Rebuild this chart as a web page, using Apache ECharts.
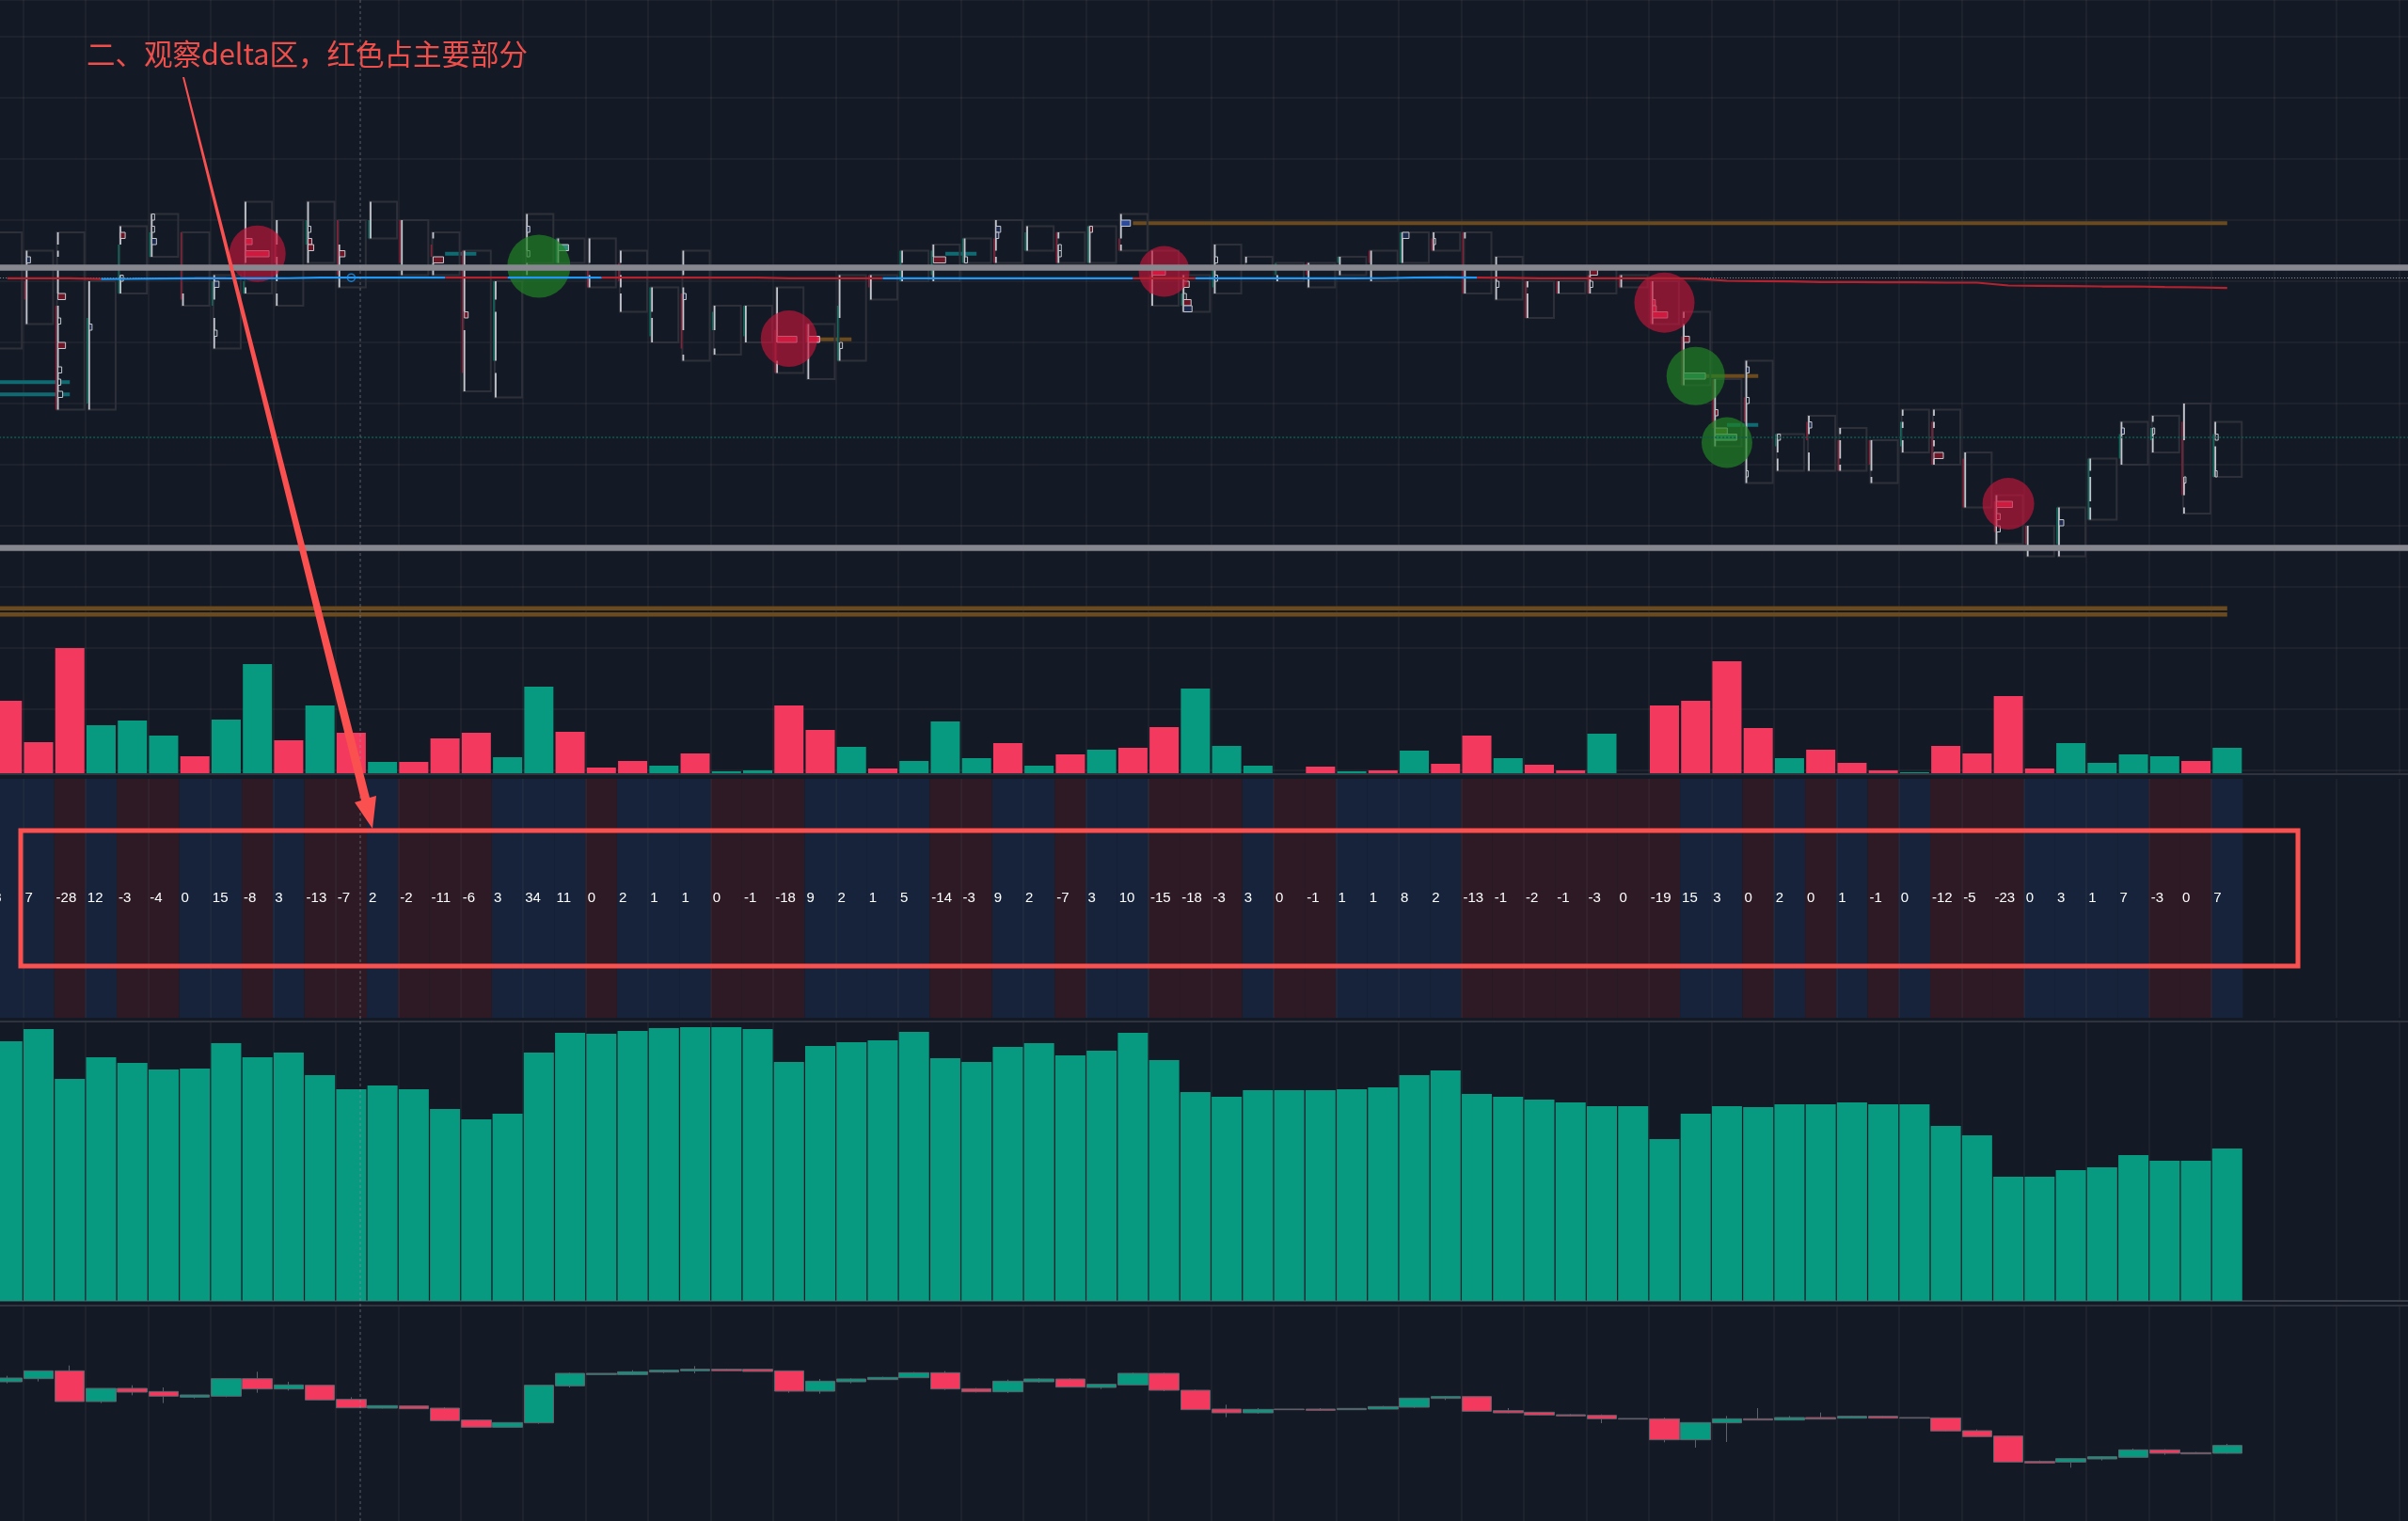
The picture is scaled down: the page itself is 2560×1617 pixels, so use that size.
<!DOCTYPE html>
<html>
<head>
<meta charset="utf-8">
<title>delta</title>
<script src="https://cdn.jsdelivr.net/npm/echarts@6/dist/echarts.min.js"></script>
<style>
html,body{margin:0;padding:0;background:#141a25;}
#main{width:2560px;height:1617px;}
</style>
</head>
<body>
<div id="main"></div>
<script>
// values, price in ticks, panes in their own units
var note = '二、观察delta区，红色占主要部分';

var deltas = [8,7,-28,12,-3,-4,0,15,-8,3,-13,-7,2,-2,-11,-6,3,34,11,0,2,1,1,0,-1,-18,9,2,1,5,-14,-3,9,2,-7,3,10,-15,-18,-3,3,0,-1,1,1,8,2,-13,-1,-2,-1,-3,0,-19,15,3,0,2,0,1,-1,0,-12,-5,-23,0,3,1,7,-3,0,7];
var deltaSide = ['b','b','r','b','r','r','b','b','r','b','r','r','b','r','r','r','b','b','b','r','b','b','b','r','r','r','b','b','b','b','r','r','b','b','r','b','b','r','r','r','b','r','r','b','b','b','b','r','r','r','r','r','r','r','b','b','r','b','r','b','r','b','r','r','r','b','b','b','b','r','r','b'];

var volume = [77,33,133,51,56,40,18,57,116,35,72,43,12,12,37,43,17,92,44,6,13,8,21,2,3,72,46,28,5,13,55,16,32,8,20,25,27,49,90,29,8,0,7,2,3,24,10,40,16,9,3,42,0,72,77,119,48,16,25,11,3,1,29,21,82,5,32,11,20,18,13,27];
var volumeSide = ['r','r','r','g','g','g','r','g','g','r','g','r','g','r','r','r','g','g','r','r','r','g','r','g','g','r','r','g','r','g','g','g','r','g','r','g','r','r','g','g','g','g','r','g','r','g','r','r','g','r','r','g','g','r','r','r','r','g','r','r','r','g','r','r','r','r','g','g','g','g','r','g'];

var totals = [276,289,236,259,253,246,247,274,259,264,240,225,229,225,204,193,199,264,285,284,287,290,291,291,289,254,271,275,277,286,258,254,270,274,261,266,285,256,222,217,224,224,224,225,227,240,245,220,217,214,211,207,207,172,199,207,206,209,209,211,209,209,186,176,132,132,139,142,155,149,149,162];

// open, close, low, high
var cumDelta = [[444,456,439,463],[454,479,445,479],[479,381,381,496],[381,423,376,423],[423,411,401,433],[413,398,376,426],[395,402,391,402],[398,454,395,454],[454,421,409,476],[421,434,416,444],[433,386,385,433],[388,361,361,395],[360,368,359,368],[367,358,357,367],[360,320,318,363],[322,299,299,324],[299,314,298,314],[313,433,310,433],[431,471,426,473],[467,471,467,471],[467,476,465,481],[475,481,472,483],[479,484,471,494],[484,479,478,486],[484,477,477,484],[479,414,409,479],[414,446,406,453],[444,453,439,455],[451,458,450,460],[457,473,456,475],[473,421,418,478],[422,412,410,424],[412,446,408,451],[444,453,441,456],[453,427,426,455],[426,436,421,437],[434,471,433,473],[471,417,414,473],[417,355,355,419],[357,345,331,371],[345,356,342,360],[357,355,355,357],[357,353,351,360],[355,359,355,360],[357,365,357,367],[363,392,361,392],[391,397,386,399],[397,350,349,398],[352,345,344,360],[347,338,336,348],[339,335,333,341],[337,326,312,340],[327,325,325,327],[326,259,251,330],[259,314,234,315],[313,326,252,335],[326,322,321,360],[322,330,321,335],[330,325,324,346],[328,334,327,336],[334,328,327,336],[330,328,328,330],[329,287,285,330],[288,269,268,292],[271,188,187,273],[190,185,184,193],[188,199,170,201],[198,205,193,207],[203,227,202,231],[227,216,211,229],[218,214,213,220],[216,241,215,246]];

var boxHigh = [88,85,88,80,89,91,88,81,93,90,93,90,93,90,88,85,80,91,87,87,85,79,85,76,76,79,73,81,81,85,86,87,90,89,88,89,91,85,81,86,84,83,83,84,85,88,88,88,84,80,80,82,81,80,75,64,67,55,58,56,54,59,59,52,45,40,43,51,57,58,60,57];
var boxLow = [69,73,59,59,78,84,76,69,78,76,83,79,87,81,81,62,61,83,83,79,75,70,67,68,70,65,64,67,77,80,80,83,83,85,83,83,85,76,75,78,82,80,79,81,80,83,85,78,77,74,78,78,79,73,63,53,47,49,49,49,47,52,50,43,37,35,35,41,50,52,42,48];

// bar, high, low, side of the thin candle at the left of each footprint
var bodies = [[1,80,77,'r'],[2,76,59,'r'],[3,74,60,'g'],[4,86,78,'g'],[5,88,84,'g'],[6,88,77,'r'],[7,80,76,'g'],[8,80,78,'g'],[9,88,83,'r'],[10,90,86,'g'],[11,90,81,'r'],[12,90,87,'g'],[13,90,83,'r'],[14,86,84,'r'],[15,85,65,'r'],[16,80,67,'g'],[18,87,83,'g'],[19,82,79,'r'],[20,83,80,'r'],[21,79,71,'g'],[22,78,69,'r'],[23,75,72,'g'],[24,76,71,'g'],[25,72,65,'r'],[26,73,70,'r'],[27,76,67,'g'],[28,81,79,'r'],[29,85,80,'g'],[30,85,81,'g'],[31,87,83,'g'],[32,87,83,'r'],[33,88,85,'g'],[34,88,83,'r'],[35,89,83,'g'],[36,87,85,'r'],[37,81,78,'r'],[38,78,76,'g'],[39,82,79,'g'],[41,83,81,'g'],[42,83,81,'r'],[43,84,83,'g'],[44,85,83,'r'],[45,88,83,'g'],[46,87,85,'r'],[47,88,78,'r'],[49,80,74,'r'],[50,80,78,'r'],[51,81,78,'r'],[52,81,79,'r'],[53,80,73,'r'],[54,71,63,'r'],[55,64,56,'r'],[56,61,57,'r'],[57,55,53,'g'],[58,57,54,'r'],[59,54,49,'r'],[60,54,50,'r'],[61,57,53,'g'],[62,57,50,'r'],[63,51,43,'r'],[64,44,39,'r'],[65,40,37,'r'],[66,43,37,'g'],[67,51,41,'g'],[68,55,51,'g'],[69,56,54,'g'],[70,57,45,'r'],[71,55,48,'g']];

// bar, from, to: traded price runs along the left edge
var prints = [[1,85,73],[2,88,86],[2,85,84],[2,82,78],[2,76,59],[3,80,59],[4,89,86],[4,81,78],[5,91,84],[6,78,76],[7,81,77],[7,74,69],[8,93,83],[8,79,78],[9,90,86],[9,84,80],[9,78,76],[10,93,83],[11,86,79],[12,93,87],[13,90,81],[14,88,87],[14,83,81],[15,85,75],[15,72,62],[16,80,77],[16,75,67],[16,65,61],[17,91,85],[17,83,81],[18,87,83],[19,87,83],[19,81,79],[20,85,83],[20,81,79],[20,78,75],[21,79,75],[21,74,70],[22,85,81],[22,79,72],[22,68,67],[23,76,72],[23,69,68],[24,76,70],[25,79,70],[25,67,65],[26,73,64],[27,81,74],[27,70,67],[28,81,77],[29,85,83],[29,82,80],[30,86,84],[30,82,80],[31,87,83],[32,90,85],[32,84,83],[33,89,85],[34,88,87],[34,86,83],[35,89,83],[36,91,87],[36,86,85],[37,85,76],[38,81,75],[39,86,78],[40,84,83],[41,81,80],[42,83,79],[43,84,81],[44,85,80],[45,88,83],[46,88,85],[47,88,87],[47,82,78],[48,84,77],[49,80,79],[49,78,74],[50,80,78],[51,81,78],[52,81,79],[53,80,73],[54,75,74],[54,73,63],[55,64,53],[56,67,47],[57,55,52],[57,51,49],[58,58,55],[58,52,49],[59,56,55],[59,54,51],[59,50,49],[60,54,49],[60,48,47],[61,59,58],[61,57,56],[61,54,52],[62,59,58],[62,57,56],[62,54,53],[62,51,50],[63,52,43],[64,45,37],[65,40,35],[66,43,35],[67,51,49],[67,48,44],[67,43,41],[68,57,50],[69,58,57],[69,56,52],[70,60,54],[70,48,45],[70,43,42],[71,57,55],[71,53,48]];

// bar, price, profile volume, kind
var imbalances = [[1,83.5,4,'b'],[2,77.5,8,'r'],[2,73.5,3,'n'],[2,69.5,8,'r'],[2,65.5,4,'n'],[2,63.5,3,'n'],[2,61.5,5,'n'],[3,72.5,3,'b'],[4,87.5,5,'r'],[4,80.5,3,'n'],[5,90.5,3,'n'],[5,88.5,3,'n'],[5,86.5,5,'b'],[7,79.5,5,'b'],[7,71.5,3,'n'],[8,86.5,7,'R'],[8,84.5,25,'R'],[10,88.5,3,'n'],[10,86.5,4,'r'],[10,85.5,6,'r'],[11,84.5,6,'r'],[14,83.5,11,'r'],[15,74.5,4,'r'],[17,88.5,3,'b'],[17,84.5,3,'n'],[18,85.5,11,'g'],[22,77.5,3,'b'],[25,70.5,21,'R'],[26,70.5,12,'R'],[27,69.5,3,'n'],[30,83.5,13,'r'],[31,83.5,3,'n'],[32,88.5,5,'b'],[32,87.5,3,'b'],[34,85.5,3,'n'],[34,84.5,3,'n'],[35,88.5,3,'r'],[36,89.5,10,'B'],[37,81.5,14,'R'],[38,79.5,6,'r'],[38,77.5,3,'n'],[38,76.5,8,'r'],[38,75.5,9,'b'],[39,83.5,3,'n'],[39,80.5,3,'n'],[45,87.5,7,'b'],[46,86.5,2,'n'],[48,79.5,3,'n'],[51,81.5,8,'r'],[51,79.5,3,'n'],[53,76.5,3,'R'],[53,75.5,4,'R'],[53,74.5,16,'R'],[54,70.5,6,'r'],[54,64.5,23,'g'],[55,58.5,3,'r'],[55,55.5,13,'o'],[55,54.5,23,'g'],[56,65.5,3,'b'],[56,60.5,3,'n'],[56,48.5,2,'n'],[57,54.5,3,'n'],[58,56.5,3,'b'],[62,51.5,10,'r'],[64,43.5,17,'R'],[64,41.5,4,'r'],[64,39.5,4,'n'],[66,40.5,5,'b'],[68,55.5,3,'b'],[69,55.5,2,'n'],[70,47.5,2,'n'],[71,54.5,3,'n'],[71,48.5,2,'n']];

// first bar, last bar, price, kind: resting levels
var levels = [[36,71,89.5,'o'],[0,71,26.5,'O'],[0,71,25.5,'O'],[26,27,70.5,'o'],[54,56,64.5,'o'],[0,2,63.5,'t'],[0,2,61.5,'t'],[14,15,84.5,'t'],[30,31,84.5,'t'],[55,56,56.5,'t']];

// bar, price, diameter
var redMarks = [[8,84.5,60],[25,70.6,60],[37,81.6,54],[53,76.5,64],[64,43.6,55]];
var greenMarks = [[17,82.46,67],[54,64.5,62],[55,53.6,54]];

var vwap = [80.49,80.49,80.49,80.38,80.40,80.45,80.47,80.47,80.47,80.50,80.59,80.59,80.59,80.59,80.59,80.59,80.59,80.59,80.59,80.59,80.59,80.59,80.59,80.59,80.59,80.49,80.49,80.49,80.49,80.49,80.49,80.49,80.49,80.49,80.49,80.49,80.49,80.49,80.49,80.49,80.49,80.49,80.49,80.49,80.50,80.60,80.62,80.60,80.55,80.49,80.49,80.49,80.49,80.49,80.44,80.08,80.03,79.97,79.87,79.87,79.82,79.82,79.77,79.77,79.31,79.26,79.21,79.15,79.15,79.05,79.00,78.90];
var vwapBlueRuns = [[3,6],[7,14],[16,19],[28,36],[38,47]];

var strongLevels = [82.3,36.46];
var lastPrice = 80.57;
var tealPrice = 54.46;

var GREEN = '#089981', RED = '#f4395e', BG = '#141a25';
var GRID_LINE = 'rgba(255,255,255,0.055)';
var BAND = 33.24, SLOTS = 78;

var categories = [];
for (var c = 0; c < SLOTS; c++) categories.push(String(c));

var blueLine = [], redLine = [];
for (var i = 0; i < vwap.length; i++) {
	var inBlue = false;
	for (var r = 0; r < vwapBlueRuns.length; r++) {
		if (i >= vwapBlueRuns[r][0] && i <= vwapBlueRuns[r][1]) inBlue = true;
	}
	blueLine.push(inBlue ? vwap[i] : null);
	var edge = false;
	for (var r2 = 0; r2 < vwapBlueRuns.length; r2++) {
		if (i === vwapBlueRuns[r2][0] || i === vwapBlueRuns[r2][1]) edge = true;
	}
	redLine.push(!inBlue || edge ? vwap[i] : null);
}

function paneGrid(top, height) {
	// grid runs past the canvas on purpose, first and last bars are cut like the picture
	return {left: -8.86, width: BAND * SLOTS, top: top, height: height, outerBoundsMode: 'none'};
}

function xAxisFor(gridIndex, withLines) {
	return {
		type: 'category', gridIndex: gridIndex, data: categories, boundaryGap: true,
		axisLine: {show: false}, axisTick: {show: false}, axisLabel: {show: false},
		splitLine: {
			show: withLines,
			interval: function (index) { return index % 2 === 1; },
			lineStyle: {color: GRID_LINE, width: 1.5}
		}
	};
}

function hiddenY(gridIndex, min, max) {
	return {
		type: 'value', gridIndex: gridIndex, min: min, max: max,
		axisLine: {show: false}, axisTick: {show: false}, axisLabel: {show: false},
		splitLine: {show: false}
	};
}

function renderBox(params, api) {
	var top = api.coord([api.value(0), api.value(1)]);
	var bot = api.coord([api.value(0), api.value(2)]);
	var band = api.size([1, 0])[0];
	return {
		type: 'rect',
		shape: {x: top[0] - band * 0.41, y: top[1], width: band * 0.875, height: bot[1] - top[1]},
		style: {fill: 'none', stroke: '#2d3039', lineWidth: 2}
	};
}

function renderBody(params, api) {
	var top = api.coord([api.value(0), api.value(1)]);
	var bot = api.coord([api.value(0), api.value(2)]);
	var band = api.size([1, 0])[0];
	var x = top[0] - band * 0.41 - 1;
	return {
		type: 'line',
		shape: {x1: x, y1: top[1], x2: x, y2: bot[1]},
		style: {stroke: bodies[params.dataIndex][3] === 'r' ? '#8c2039' : '#0f6d5e', lineWidth: 1.5}
	};
}

function renderPrint(params, api) {
	var top = api.coord([api.value(0), api.value(1)]);
	var bot = api.coord([api.value(0), api.value(2)]);
	var band = api.size([1, 0])[0];
	var x = top[0] - band * 0.41 + 1;
	return {
		type: 'line',
		shape: {x1: x, y1: top[1], x2: x, y2: bot[1]},
		style: {stroke: '#c4c7ce', lineWidth: 1.8}
	};
}

var imbalanceFill = {n: BG, r: '#701526', R: '#e5244a', b: '#1b2a4e', B: '#2a4a9c', g: '#2f8a76', o: '#5c6a22'};

function renderImbalance(params, api) {
	var row = imbalances[params.dataIndex];
	var p = api.coord([row[0], row[1] + 0.5]);
	var q = api.coord([row[0], row[1] - 0.5]);
	var band = api.size([1, 0])[0];
	return {
		type: 'rect',
		shape: {x: p[0] - band * 0.41 + 1, y: p[1], width: row[2], height: q[1] - p[1]},
		style: {fill: imbalanceFill[row[3]], stroke: '#c4c7ce', lineWidth: 1}
	};
}

var levelStyle = {
	o: {stroke: '#6b4b1e', lineWidth: 3.8},
	O: {stroke: '#6b4b1e', lineWidth: 4.6},
	t: {stroke: '#0f6a72', lineWidth: 4}
};

function renderLevel(params, api) {
	var row = levels[params.dataIndex];
	var a = api.coord([row[0], row[2]]);
	var b = api.coord([row[1], row[2]]);
	var x0 = row[0] === 0 ? params.coordSys.x : a[0];
	return {
		type: 'line',
		shape: {x1: x0, y1: a[1], x2: b[0], y2: b[1]},
		style: levelStyle[row[3]]
	};
}

var deltaData = [];
for (var d = 0; d < deltas.length; d++) {
	deltaData.push({
		value: 1,
		delta: deltas[d],
		itemStyle: {color: deltaSide[d] === 'r' ? '#2e1a24' : '#16233a'}
	});
}

var volumeData = [];
for (var v = 0; v < volume.length; v++) {
	volumeData.push({value: volume[v], itemStyle: {color: volumeSide[v] === 'r' ? RED : GREEN}});
}

var option = {
	backgroundColor: BG,
	animation: false,
	title: {
		text: note, left: 87, top: 37,
		textStyle: {color: '#ef4f4b', fontSize: 30.5, fontWeight: 'normal', fontFamily: 'Noto Sans CJK SC'}
	},
	grid: [paneGrid(0, 819), paneGrid(0, 822), paneGrid(828, 254), paneGrid(1086, 297), paneGrid(1388, 229)],
	xAxis: [
		xAxisFor(0, false),
		xAxisFor(1, true),
		Object.assign(xAxisFor(2, true), {z: 3}),
		Object.assign(xAxisFor(3, true), {axisLine: {show: true, lineStyle: {color: '#3a3e48', width: 2}}}),
		xAxisFor(4, true)
	],
	yAxis: [
		{
			type: 'value', gridIndex: 0, min: 0, max: 126, interval: 10,
			axisLine: {show: false}, axisTick: {show: false}, axisLabel: {show: false},
			splitLine: {show: true, lineStyle: {color: GRID_LINE, width: 1.5}}
		},
		hiddenY(1, 0, 822),
		hiddenY(2, 0, 1),
		hiddenY(3, 0, 297),
		hiddenY(4, 0, 687)
	],
	series: [
		{
			type: 'custom', name: 'levels', xAxisIndex: 0, yAxisIndex: 0, z: 2,
			encode: {x: 0, y: 2}, renderItem: renderLevel, data: levels.map(function (l) { return [l[0], l[1], l[2]]; })
		},
		{
			type: 'custom', name: 'footprint', xAxisIndex: 0, yAxisIndex: 0, z: 2,
			encode: {x: 0, y: [1, 2]}, renderItem: renderBox,
			data: boxHigh.map(function (h, k) { return [k, h, boxLow[k]]; })
		},
		{
			type: 'custom', name: 'body', xAxisIndex: 0, yAxisIndex: 0, z: 2,
			encode: {x: 0, y: [1, 2]}, renderItem: renderBody,
			data: bodies.map(function (b) { return [b[0], b[1], b[2]]; })
		},
		{
			type: 'custom', name: 'prints', xAxisIndex: 0, yAxisIndex: 0, z: 2,
			encode: {x: 0, y: [1, 2]}, renderItem: renderPrint, data: prints
		},
		{
			type: 'custom', name: 'imbalance', xAxisIndex: 0, yAxisIndex: 0, z: 2,
			encode: {x: 0, y: 1}, renderItem: renderImbalance,
			data: imbalances.map(function (m) { return [m[0], m[1]]; })
		},
		{
			type: 'scatter', name: 'sell', xAxisIndex: 0, yAxisIndex: 0, z: 3, data: redMarks,
			symbolSize: function (val) { return val[2]; },
			itemStyle: {color: 'rgba(196,22,60,0.82)'}
		},
		{
			type: 'scatter', name: 'buy', xAxisIndex: 0, yAxisIndex: 0, z: 3, data: greenMarks,
			symbolSize: function (val) { return val[2]; },
			itemStyle: {color: 'rgba(32,132,36,0.85)'}
		},
		{
			type: 'line', name: 'vwap down', xAxisIndex: 0, yAxisIndex: 0, z: 6, data: redLine,
			showSymbol: false, connectNulls: false,
			lineStyle: {color: '#b3232f', width: 2.2},
			markLine: {
				silent: true, symbol: 'none', label: {show: false}, z: 5,
				data: [
					{yAxis: strongLevels[0], lineStyle: {color: '#86878f', width: 6.5, type: 'solid'}},
					{yAxis: strongLevels[1], lineStyle: {color: '#86878f', width: 6.5, type: 'solid'}},
					{yAxis: lastPrice, lineStyle: {color: 'rgba(200,204,212,0.7)', width: 1, type: [1, 2]}},
					{yAxis: tealPrice, lineStyle: {color: '#0f5a52', width: 1.6, type: [2, 2]}}
				]
			}
		},
		{
			type: 'line', name: 'vwap up', xAxisIndex: 0, yAxisIndex: 0, z: 6, data: blueLine,
			showSymbol: false, connectNulls: false,
			lineStyle: {color: '#2196f3', width: 2.2}
		},
		{
			type: 'scatter', name: 'cursor', xAxisIndex: 0, yAxisIndex: 0, z: 7, data: [[11, vwap[11]]],
			symbolSize: 8,
			itemStyle: {color: 'rgba(0,0,0,0)', borderColor: '#2196f3', borderWidth: 1.5}
		},
		{
			type: 'bar', name: 'volume', xAxisIndex: 1, yAxisIndex: 1, z: 2, barWidth: 31, data: volumeData
		},
		{
			type: 'bar', name: 'delta', xAxisIndex: 2, yAxisIndex: 2, z: 2, barWidth: '100%', data: deltaData,
			label: {
				show: true, position: 'insideLeft', distance: 2, color: '#ffffff',
				fontSize: 15, fontFamily: 'Liberation Sans',
				formatter: function (p) { return String(p.data.delta); }
			}
		},
		{
			type: 'bar', name: 'total', xAxisIndex: 3, yAxisIndex: 3, z: 2, barWidth: 32, data: totals,
			itemStyle: {color: GREEN}
		},
		{
			type: 'candlestick', name: 'cumulative delta', xAxisIndex: 4, yAxisIndex: 4, z: 2, barWidth: 32, data: cumDelta,
			itemStyle: {color: GREEN, color0: RED, borderColor: '#5d626b', borderColor0: '#5d626b', borderWidth: 1}
		}
	],
	// annotations drawn over the chart by the author of the picture
	graphic: {elements: [
		{type: 'rect', z: 8, silent: true, shape: {x: 0, y: 822, width: 2560, height: 2}, style: {fill: '#2f333d'}},
		{type: 'rect', z: 8, silent: true, shape: {x: 0, y: 1085, width: 2560, height: 2}, style: {fill: '#2f333d'}},
		{type: 'rect', z: 8, silent: true, shape: {x: 0, y: 1387, width: 2560, height: 2}, style: {fill: '#2f333d'}},
		{type: 'line', z: 9, silent: true, shape: {x1: 383, y1: 0, x2: 383, y2: 1617}, style: {stroke: 'rgba(150,155,165,0.55)', lineWidth: 1, lineDash: [3, 3]}},
		{type: 'rect', z: 20, silent: true, shape: {x: 22, y: 883, width: 2421, height: 144}, style: {fill: 'none', stroke: '#fa504f', lineWidth: 5}},
		{type: 'polygon', z: 20, silent: true, shape: {points: [[194, 82], [196, 82], [393, 848], [400, 846], [396, 881], [377, 853], [384, 851]]}, style: {fill: '#fa504f'}}
	]}
};

var myChart = echarts.init(document.getElementById('main'));
myChart.setOption(option);
</script>
</body>
</html>
